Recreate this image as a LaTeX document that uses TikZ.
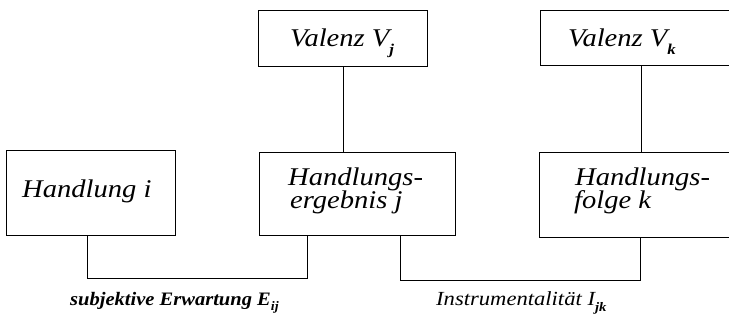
\documentclass[tikz,border=0pt]{standalone}
\usepackage{fontspec}
\setmainfont{Liberation Serif}
\usetikzlibrary{calc}
\newcommand{\lowsub}[1]{\raisebox{-0.28em}{\fontsize{15}{15}\selectfont\bfseries\itshape #1}}
\newcommand{\labsub}[1]{\raisebox{-0.3em}{\fontsize{13}{13}\selectfont\bfseries\itshape #1}}
\newcommand{\wide}[1]{\scalebox{1.12}[1]{#1}}
\newcommand{\widea}[1]{\scalebox{1.08}[1]{#1}}
\newcommand{\wideb}[1]{\scalebox{1.13}[1]{#1}}
\begin{document}
\begin{tikzpicture}[x=1pt,y=-1pt,
  box/.style={draw, line width=1pt, inner sep=0pt, anchor=north west},
  txt/.style={inner sep=0pt, anchor=base west, font=\fontsize{25.5}{25.5}\selectfont\itshape},
  lab/.style={inner sep=0pt, anchor=base west},
  conn/.style={draw, line width=0.9pt}]
\useasboundingbox (0,0) rectangle (729,321);
\clip (0,0) rectangle (729,321);
% boxes
\node[box, minimum width=169pt, minimum height=85pt] (hi) at (6,150) {};
\node[box, minimum width=169pt, minimum height=56pt] (vj) at (258,10) {};
\node[box, minimum width=196pt, minimum height=83pt] (hj) at (259,152) {};
\node[box, minimum width=230pt, minimum height=55pt] (vk) at (540,10) {};
\node[box, minimum width=230pt, minimum height=85pt] (hk) at (539,152) {};
% texts
\node[txt] (thi) at (22,197) {\wide{Handlung i}};
\node[txt] (tvj) at (290,47) {\wide{Valenz V\lowsub{j}}};
\node[txt] (thj1) at (288,185) {\wide{Handlungs-}};
\node[txt] (thj2) at (290,208) {\wide{ergebnis j}};
\node[txt] (tvk) at (568,47) {\wide{Valenz V\lowsub{k}}};
\node[txt] (thk1) at (575,185) {\wide{Handlungs-}};
\node[txt] (thk2) at (574,208) {\wide{folge k}};
% labels
\node[lab, font=\fontsize{19}{19}\selectfont\bfseries\itshape] (l1) at (70,305) {\widea{subjektive Erwartung E\labsub{ij}}};
\node[lab, font=\fontsize{20}{20}\selectfont\itshape] (l2) at (436,305) {\wideb{Instrumentalität I\labsub{jk}}};
% connectors
\coordinate (j1) at (87,278);
\coordinate (j2) at (400,280);
\draw[conn] (vj.south) -- (vj.south |- hj.north);
\draw[conn] ($(vk.south west)+(101,0)$) -- ($(hk.north west)+(102,0)$);
\draw[conn] (hi.south -| j1) -- (j1) -- (j1 -| 307,0) -- ($(hj.south west)+(48,0)$);
\draw[conn] (hj.south -| j2) -- (j2) -- (j2 -| 640,0) -- ($(hk.south west)+(101,0)$);
\end{tikzpicture}
\end{document}
